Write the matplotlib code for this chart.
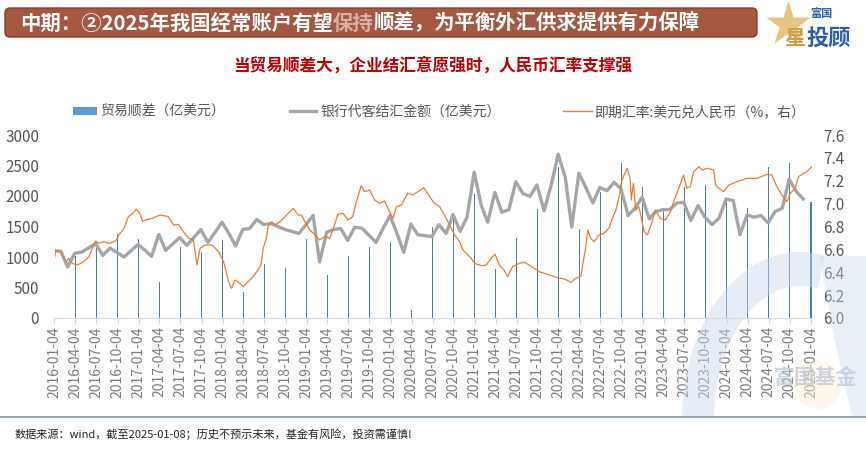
import matplotlib
matplotlib.use("Agg")
import matplotlib.pyplot as plt
import matplotlib.patches as mpatches
from matplotlib.lines import Line2D
import numpy as np
import pandas as pd

plt.rcParams["font.family"] = ["Noto Sans CJK SC", "DejaVu Sans"]
plt.rcParams["axes.unicode_minus"] = False

# --- data ---
tick_labels = [f"{y}-{m:02d}-04" for y in range(2016, 2025) for m in (1, 4, 7, 10)] + ["2025-01-04"]

bar_dates = tick_labels[1:]
trade_surplus = [1010, 1260, 1380, 1300, 592, 1163, 1085, 1272, 429, 891,
                 818, 1300, 706, 1016, 1163, 1245, 125, 1489, 1660, 2038,
                 800, 1305, 1788, 2470, 1455, 2070, 2549, 2141, 1761, 2141,
                 2183, 1965, 1796, 2480, 2549, 1907]

settle_months = pd.date_range("2016-01-01", periods=108, freq="MS")
settlement = [1109, 1090, 836, 1060, 1080, 1150, 1220, 1027, 1146, 1075, 1000, 1100,
              1206, 1110, 1010, 1370, 1109, 1215, 1320, 1190, 1320, 1451, 1240, 1400,
              1570, 1380, 1180, 1451, 1467, 1614, 1533, 1549, 1500, 1451, 1420, 1386,
              1530, 1680, 918, 1407, 1450, 1467, 1272, 1489, 1472, 1360, 1240, 1460,
              1680, 1380, 1075, 1540, 1365, 1350, 1335, 1530, 1386, 1696, 1420, 1652,
              2390, 1842, 1570, 2060, 1733, 1777, 2234, 2038, 1994, 2180, 1761, 2168,
              2685, 2304, 1489, 2375, 2141, 1886, 2141, 2087, 2223, 2120, 1680, 1799,
              1978, 1625, 1745, 1777, 1777, 1886, 1897, 1598, 1842, 1652, 1533, 1636,
              1951, 1924, 1364, 1690, 1652, 1680, 1560, 1745, 1799, 2277, 2071, 1951]

fx_dates = ["2016-01-04", "2016-01-09", "2016-02-01", "2016-02-15", "2016-02-25", "2016-03-06",
            "2016-03-21", "2016-04-12", "2016-05-10", "2016-06-02", "2016-06-30", "2016-07-14",
            "2016-08-06", "2016-08-27", "2016-09-26", "2016-10-10", "2016-11-01", "2016-11-20",
            "2016-12-14", "2016-12-24", "2017-01-08", "2017-01-22", "2017-02-04", "2017-03-02",
            "2017-04-08", "2017-05-13", "2017-06-05", "2017-06-26", "2017-07-17", "2017-08-09",
            "2017-08-30", "2017-09-14", "2017-09-28", "2017-10-20", "2017-11-19", "2017-12-17",
            "2018-01-08", "2018-01-30", "2018-02-11", "2018-02-27", "2018-03-11", "2018-04-04",
            "2018-04-25", "2018-05-16", "2018-06-01", "2018-06-19", "2018-06-29", "2018-07-13",
            "2018-07-20", "2018-08-05", "2018-08-19", "2018-09-10", "2018-10-02", "2018-10-23",
            "2018-11-07", "2018-11-28", "2018-12-13", "2018-12-27", "2019-01-18", "2019-02-10",
            "2019-03-01", "2019-03-23", "2019-04-14", "2019-05-05", "2019-05-19", "2019-06-11",
            "2019-07-02", "2019-07-23", "2019-08-08", "2019-08-29", "2019-09-13", "2019-10-05",
            "2019-10-26", "2019-11-17", "2019-12-09", "2019-12-30", "2020-01-14", "2020-01-29",
            "2020-02-20", "2020-03-18", "2020-04-10", "2020-05-01", "2020-05-27", "2020-06-21",
            "2020-07-12", "2020-08-04", "2020-08-25", "2020-09-16", "2020-10-08", "2020-10-29",
            "2020-11-13", "2020-11-28", "2020-12-19", "2021-01-03", "2021-02-02", "2021-02-23",
            "2021-03-15", "2021-04-02", "2021-04-20", "2021-05-11", "2021-05-26", "2021-06-17",
            "2021-07-16", "2021-08-07", "2021-08-28", "2021-09-19", "2021-10-11", "2021-11-02",
            "2021-12-01", "2021-12-29", "2022-01-28", "2022-02-26", "2022-03-18", "2022-04-09",
            "2022-04-30", "2022-05-10", "2022-05-22", "2022-06-06", "2022-06-27", "2022-07-19",
            "2022-08-10", "2022-08-24", "2022-09-09", "2022-09-23", "2022-10-03", "2022-10-14",
            "2022-10-28", "2022-11-10", "2022-11-15", "2022-11-24", "2022-12-04", "2022-12-18",
            "2023-01-10", "2023-01-24", "2023-02-08", "2023-02-28", "2023-03-21", "2023-04-12",
            "2023-05-04", "2023-05-18", "2023-06-09", "2023-06-30", "2023-07-14", "2023-07-29",
            "2023-08-13", "2023-09-04", "2023-09-19", "2023-10-10", "2023-11-08", "2023-11-16",
            "2023-11-30", "2023-12-21", "2024-01-13", "2024-02-18", "2024-04-01", "2024-05-14",
            "2024-06-26", "2024-07-18", "2024-08-09", "2024-08-30", "2024-09-21", "2024-10-06",
            "2024-10-27", "2024-11-11", "2024-12-03", "2024-12-17", "2025-01-08"]
fx_rates = [6.520, 6.586, 6.580, 6.520, 6.492, 6.522, 6.478, 6.463, 6.492, 6.536, 6.673, 6.653,
            6.667, 6.653, 6.673, 6.726, 6.784, 6.886, 6.924, 6.953, 6.915, 6.842, 6.857, 6.871,
            6.900, 6.886, 6.813, 6.819, 6.755, 6.697, 6.682, 6.463, 6.609, 6.638, 6.638, 6.580,
            6.492, 6.317, 6.260, 6.332, 6.317, 6.274, 6.317, 6.361, 6.405, 6.463, 6.609, 6.697,
            6.798, 6.842, 6.813, 6.842, 6.886, 6.929, 6.959, 6.900, 6.900, 6.842, 6.769, 6.726,
            6.682, 6.711, 6.697, 6.813, 6.907, 6.915, 6.857, 6.886, 7.017, 7.157, 7.105, 7.119,
            7.032, 7.003, 7.023, 6.929, 6.871, 6.973, 6.988, 7.090, 7.075, 7.105, 7.140, 7.061,
            7.003, 6.973, 6.900, 6.813, 6.726, 6.667, 6.595, 6.566, 6.522, 6.478, 6.457, 6.463,
            6.522, 6.557, 6.463, 6.420, 6.361, 6.449, 6.478, 6.487, 6.463, 6.434, 6.405, 6.390,
            6.370, 6.352, 6.341, 6.312, 6.347, 6.361, 6.609, 6.769, 6.697, 6.667, 6.726, 6.741,
            6.784, 6.871, 6.944, 7.061, 7.190, 7.250, 7.309, 7.221, 7.032, 7.178, 6.944, 6.973,
            6.755, 6.726, 6.813, 6.944, 6.871, 6.857, 6.929, 7.017, 7.134, 7.250, 7.134, 7.148,
            7.279, 7.323, 7.294, 7.309, 7.294, 7.163, 7.134, 7.105, 7.163, 7.192, 7.221, 7.221,
            7.256, 7.250, 7.148, 7.075, 7.017, 7.090, 7.134, 7.236, 7.265, 7.279, 7.323]

left_ticks = [0, 500, 1000, 1500, 2000, 2500, 3000]
right_ticks = [6.0, 6.2, 6.4, 6.6, 6.8, 7.0, 7.2, 7.4, 7.6]

BAR_C = "#4F7FA8"
BAR_LEG = "#5B9BD5"
GRAY_C = "#A6A6A6"
ORANGE_C = "#ED7D31"
TXT_C = "#595959"

W, H = 866, 455
fig = plt.figure(figsize=(W / 100, H / 100), dpi=100)
fig.patch.set_facecolor("white")

# main axes, placed in pixel terms
x0, x1 = 54.5, 812.4
y_top, y_bot = 135, 318
ax = fig.add_axes([x0 / W, 1 - y_bot / H, (x1 - x0) / W, (y_bot - y_top) / H])

tick_pos = pd.to_datetime(tick_labels)
# ~1 px wide bars (axis is ~0.23 px per day)
ax.bar(pd.to_datetime(bar_dates), trade_surplus, width=5, color=BAR_C,
       linewidth=0, zorder=1)
ax.plot(settle_months, settlement, color=GRAY_C, lw=2.4, zorder=2)

ax.set_ylim(0, 3000)
ax.set_yticks(left_ticks)
ax.set_xlim(pd.Timestamp("2016-01-04"), pd.Timestamp("2025-01-10"))
ax.set_xticks(tick_pos)
ax.set_xticklabels(tick_labels, rotation=90, fontsize=10, color="#7F7F7F")
ax.tick_params(axis="x", direction="out", length=4, color="#D9D9D9", pad=2)
ax.tick_params(axis="y", length=0, labelsize=11, labelcolor=TXT_C, pad=11)
for s in ("top", "left", "right"):
    ax.spines[s].set_visible(False)
ax.spines["bottom"].set_color("#D9D9D9")
ax.spines["bottom"].set_linewidth(0.9)

ax2 = ax.twinx()
ax2.plot(pd.to_datetime(fx_dates), fx_rates, color=ORANGE_C, lw=0.9, zorder=3)
ax2.set_ylim(6.0, 7.6)
ax2.set_yticks(right_ticks)
ax2.set_yticklabels([f"{v:.1f}" for v in right_ticks])
ax2.tick_params(axis="y", length=0, labelsize=11, labelcolor=TXT_C, pad=8)
for s in ("top", "left", "right", "bottom"):
    ax2.spines[s].set_visible(False)

# legends, one per series
leg_y = 1 - 112 / H
fig.legend(handles=[mpatches.Patch(facecolor=BAR_LEG, edgecolor="none")],
           labels=["贸易顺差（亿美元）"], loc="center left",
           bbox_to_anchor=(73 / W, leg_y), frameon=False, fontsize=10,
           handlelength=1.75, handleheight=0.45, handletextpad=0.2,
           borderpad=0, borderaxespad=0, labelcolor=TXT_C)
fig.legend(handles=[Line2D([], [], color=GRAY_C, lw=2.4)],
           labels=["银行代客结汇金额（亿美元）"], loc="center left",
           bbox_to_anchor=(290 / W, leg_y), frameon=False, fontsize=10,
           handlelength=1.85, handletextpad=0.35,
           borderpad=0, borderaxespad=0, labelcolor=TXT_C)
fig.legend(handles=[Line2D([], [], color=ORANGE_C, lw=1.0)],
           labels=["即期汇率:美元兑人民币（%，右）"], loc="center left",
           bbox_to_anchor=(563 / W, leg_y), frameon=False, fontsize=10,
           handlelength=2.1, handletextpad=0.15,
           borderpad=0, borderaxespad=0, labelcolor=TXT_C)

# overlay for banner, titles, footer, watermark (pixel coords, y down)
ov = fig.add_axes([0, 0, 1, 1], zorder=5)
ov.set_xlim(0, W)
ov.set_ylim(H, 0)
ov.axis("off")
ov.patch.set_alpha(0)

# watermark ring (elliptic arc), clipped above the footer rule
t = np.radians(np.linspace(78, 205, 80))
cx, cy = 800, 420
outer = np.column_stack([cx + 118 * np.cos(t), cy - 168 * np.sin(t)])
inner = np.column_stack([cx + 86 * np.cos(t[::-1]), cy - 134 * np.sin(t[::-1])])
ring = mpatches.Polygon(np.vstack([outer, inner]), closed=True, fc="#C9D9EC",
                        ec="none", alpha=0.45)
ov.add_patch(ring)
ring.set_clip_path(mpatches.Rectangle((0, 0), W, 416, transform=ov.transData))
wedge = mpatches.Polygon([(820, 256), (866, 256), (866, 416), (852, 416), (834, 338)],
                         closed=True, fc="#C9D9EC", ec="none", alpha=0.4)
ov.add_patch(wedge)
ov.add_patch(mpatches.Circle((818, 385), 24, fc="#FCEFD6", ec="none", alpha=0.45))
ov.text(815, 378, "富国基金", fontsize=15, color="#B8C6D6", alpha=0.7,
        ha="center", va="center", fontweight="bold")

ov.plot([0, W], [417, 417], color="#8497A7", lw=1.2)

banner = mpatches.FancyBboxPatch((5, 8), 752, 29, boxstyle="round,pad=0,rounding_size=5",
                                 fc="#A6573F", ec="#86412F", lw=1.0)
ov.add_patch(banner)
t1 = ov.text(20, 23, "中期：②2025年我国经常账户有望", color="white", fontsize=14.7,
             fontweight="bold", ha="left", va="center")
t2 = ov.annotate("保持", xy=(1, 0), xycoords=t1, ha="left", va="bottom",
                 color="#E9D2CB", fontsize=14.7, fontweight="bold", alpha=0.75)
ov.annotate("顺差，为平衡外汇供求提供有力保障", xy=(1, 0), xycoords=t2, ha="left",
            va="bottom", color="white", fontsize=14.7, fontweight="bold")

# logo
ov.plot([788], [24], marker="*", markersize=34, color="#E4BE78", alpha=0.9, mec="none")
ov.text(795, 38, "星", fontsize=15, color="#D19E45", fontweight="bold", ha="center", va="center")
ov.text(829, 38, "投顾", fontsize=16, color="#2B5FAE", fontweight="bold", ha="center",
        va="center", style="italic")
ov.text(821, 14, "富国", fontsize=8, color="#2B5FAE", fontweight="bold", ha="center", va="center")

ov.text(433, 66, "当贸易顺差大，企业结汇意愿强时，人民币汇率支撑强", color="#C00000",
        fontsize=12, fontweight="bold", ha="center", va="center")

ov.text(15, 434, "数据来源：wind，截至2025-01-08；历史不预示未来，基金有风险，投资需谨慎!",
        fontsize=8, color="#262626", ha="left", va="center")

fig.savefig("out.png", dpi=100)
